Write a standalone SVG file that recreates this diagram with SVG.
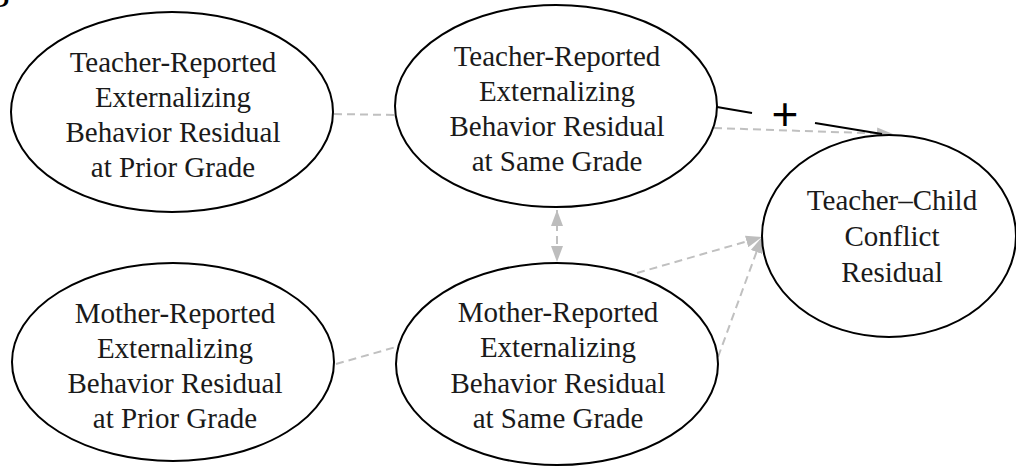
<svg xmlns="http://www.w3.org/2000/svg" width="1016" height="468" viewBox="0 0 1016 468">
<defs>
<style>
.node ellipse{fill:#fff;stroke:#000;stroke-width:2}
.node text{font-family:"Liberation Serif","Times New Roman",serif;font-size:29px;fill:#1a1a1a;text-anchor:middle}
.dash{fill:none;stroke:#c0c0c0;stroke-width:2;stroke-dasharray:8 5}
.solid{fill:none;stroke:#000;stroke-width:2}
.lbl{font-family:"Liberation Sans",Arial,sans-serif;font-size:46px;fill:#000;text-anchor:middle}
</style>
<marker id="ah" viewBox="0 0 16 12" refX="16" refY="6" markerWidth="16" markerHeight="12" markerUnits="userSpaceOnUse" orient="auto-start-reverse">
<path d="M0,0 L16,6 L0,12 Z" fill="#bdbdbd"/>
</marker>
</defs>
<rect width="1016" height="468" fill="#fff"/>
<text x="-14" y="7" font-family="Liberation Serif,serif" font-size="36" fill="#000">B</text>
<g id="connectors">
<line class="dash" x1="334" y1="114" x2="395" y2="115"/>
<line class="dash" x1="336" y1="364" x2="396" y2="347"/>
<line class="dash" x1="557" y1="210" x2="557" y2="262" marker-start="url(#ah)" marker-end="url(#ah)"/>
<line class="dash" x1="714" y1="128" x2="893" y2="134" marker-end="url(#ah)"/>
<line class="dash" x1="637" y1="273" x2="762" y2="237" marker-end="url(#ah)"/>
<line class="dash" x1="718" y1="357" x2="762" y2="237" marker-end="url(#ah)"/>
<polyline class="solid" points="717,107 752,113"/>
<polyline class="solid" points="815,123 882,134"/>
<text class="lbl" x="785" y="130">+</text>
</g>
<g id="tprior" class="node">
<ellipse cx="172" cy="112" rx="161" ry="100"/>
<text x="173" y="72">Teacher-Reported</text>
<text x="173" y="107">Externalizing</text>
<text x="173" y="142">Behavior Residual</text>
<text x="173" y="177">at Prior Grade</text>
</g>
<g id="tsame" class="node">
<ellipse cx="556" cy="106" rx="161" ry="101"/>
<text x="557" y="66">Teacher-Reported</text>
<text x="557" y="101">Externalizing</text>
<text x="557" y="136">Behavior Residual</text>
<text x="557" y="171">at Same Grade</text>
</g>
<g id="conflict" class="node">
<ellipse cx="889" cy="236" rx="127" ry="101"/>
<text x="892" y="210">Teacher–Child</text>
<text x="892" y="246">Conflict</text>
<text x="892" y="282">Residual</text>
</g>
<g id="msame" class="node">
<ellipse cx="557" cy="364" rx="161" ry="101"/>
<text x="558" y="322">Mother-Reported</text>
<text x="558" y="357">Externalizing</text>
<text x="558" y="393">Behavior Residual</text>
<text x="558" y="428">at Same Grade</text>
</g>
<g id="mprior" class="node">
<ellipse cx="173" cy="362" rx="161" ry="99"/>
<text x="175" y="323">Mother-Reported</text>
<text x="175" y="358">Externalizing</text>
<text x="175" y="393">Behavior Residual</text>
<text x="175" y="428">at Prior Grade</text>
</g>
</svg>
